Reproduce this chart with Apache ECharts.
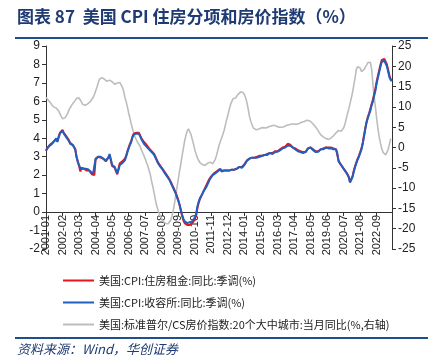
<!DOCTYPE html>
<html><head><meta charset="utf-8">
<script src="https://cdn.jsdelivr.net/npm/echarts@6/dist/echarts.min.js"></script>
<style>html,body{margin:0;padding:0;background:#fff}#c{width:439px;height:360px}</style>
</head><body><div id="c"></div>
<script>
const startYear = 2001, monthCount = 273;
const rentSeries = [
3.3,3.45,3.55,3.65,3.7,3.75,3.8,3.9,4.0,3.85,4.1,4.3,
4.35,4.45,4.3,4.2,4.1,4.0,3.9,3.75,3.75,3.65,3.55,3.4,
3.0,2.7,2.5,2.2,2.4,2.3,2.35,2.3,2.25,2.3,2.25,2.15,
2.05,2.05,2.0,2.85,2.95,3.0,2.95,2.95,2.9,2.9,2.85,2.75,
2.8,2.95,3.1,2.8,2.5,2.45,2.4,2.35,2.05,2.35,2.65,2.65,
2.75,2.8,2.9,3.05,3.3,3.5,3.7,3.85,4.1,4.25,4.25,4.3,
4.35,4.3,4.15,4.0,3.9,3.8,3.7,3.65,3.55,3.45,3.35,3.3,
3.25,3.15,3.0,2.85,2.7,2.6,2.5,2.4,2.3,2.2,2.1,2.0,
1.9,1.8,1.65,1.5,1.35,1.25,1.05,0.85,0.65,0.4,0.1,-0.2,
-0.45,-0.6,-0.7,-0.7,-0.7,-0.7,-0.6,-0.6,-0.5,-0.4,-0.2,0.2,
0.5,0.7,0.85,1.0,1.15,1.3,1.45,1.6,1.75,1.85,1.95,2.05,
2.1,2.15,2.2,2.25,2.3,2.35,2.25,2.2,2.25,2.25,2.25,2.25,
2.25,2.25,2.3,2.3,2.3,2.35,2.35,2.4,2.45,2.5,2.45,2.5,
2.6,2.7,2.8,2.85,2.9,2.95,2.95,3.0,2.95,3.0,3.0,3.05,
3.05,3.0,3.05,3.1,3.1,3.1,3.15,3.2,3.2,3.25,3.2,3.25,
3.3,3.3,3.3,3.3,3.4,3.45,3.5,3.4,3.55,3.6,3.7,3.7,
3.65,3.6,3.5,3.45,3.45,3.4,3.35,3.3,3.3,3.3,3.25,3.2,
3.25,3.35,3.45,3.5,3.5,3.45,3.4,3.3,3.3,3.35,3.3,3.35,
3.4,3.5,3.45,3.5,3.5,3.55,3.5,3.55,3.5,3.5,3.45,3.45,
3.4,3.35,2.8,2.65,2.55,2.45,2.35,2.25,2.15,2.05,1.9,1.65,
1.6,1.95,2.25,2.5,2.7,2.9,3.05,3.15,3.45,3.75,4.15,4.55,
4.9,5.15,5.35,5.6,5.85,6.1,6.4,6.7,7.1,7.4,7.7,8.0,
8.25,8.35,8.3,8.15,8.0,7.7,7.4,7.2,7.15];
const shelterSeries = [
3.36,3.45,3.55,3.63,3.65,3.72,3.8,3.9,4.0,3.8,4.05,4.27,
4.3,4.4,4.25,4.15,4.05,3.95,3.85,3.7,3.72,3.63,3.55,3.4,
3.0,2.75,2.55,2.37,2.45,2.35,2.4,2.35,2.3,2.32,2.28,2.2,
2.1,2.08,2.05,2.9,2.95,3.0,2.95,3.0,2.95,2.9,2.85,2.8,
2.8,2.95,3.15,2.85,2.55,2.5,2.45,2.4,2.1,2.3,2.55,2.6,
2.65,2.7,2.8,3.0,3.25,3.45,3.65,3.8,4.05,4.2,4.2,4.25,
4.3,4.25,4.1,3.95,3.82,3.7,3.62,3.55,3.47,3.4,3.3,3.25,
3.2,3.1,2.95,2.8,2.65,2.55,2.45,2.35,2.28,2.15,2.05,1.95,
1.85,1.75,1.6,1.45,1.3,1.2,1.0,0.8,0.6,0.4,0.1,-0.15,
-0.35,-0.5,-0.55,-0.6,-0.6,-0.55,-0.45,-0.5,-0.4,-0.3,-0.1,0.3,
0.55,0.75,0.85,1.0,1.15,1.25,1.35,1.5,1.65,1.8,1.9,2.0,
2.05,2.1,2.15,2.2,2.3,2.35,2.2,2.2,2.25,2.25,2.25,2.25,
2.25,2.25,2.3,2.3,2.3,2.35,2.35,2.4,2.45,2.5,2.4,2.45,
2.55,2.65,2.78,2.85,2.9,2.9,2.95,2.97,2.95,3.0,2.95,3.0,
3.0,2.95,3.05,3.1,3.1,3.05,3.1,3.15,3.2,3.2,3.15,3.2,
3.25,3.25,3.27,3.25,3.35,3.4,3.45,3.35,3.5,3.55,3.6,3.63,
3.6,3.55,3.5,3.45,3.4,3.35,3.3,3.27,3.25,3.25,3.2,3.18,
3.25,3.35,3.45,3.5,3.5,3.45,3.35,3.27,3.25,3.3,3.27,3.3,
3.4,3.45,3.4,3.45,3.5,3.5,3.45,3.5,3.45,3.45,3.4,3.4,
3.4,3.2,2.75,2.65,2.55,2.45,2.35,2.25,2.15,2.05,1.9,1.6,
1.6,1.9,2.2,2.45,2.65,2.85,3.0,3.1,3.4,3.7,4.1,4.5,
4.85,5.1,5.3,5.5,5.8,6.0,6.3,6.6,7.0,7.3,7.6,7.9,
8.15,8.25,8.2,8.05,7.9,7.6,7.3,7.15,7.1];
const homePriceSeries = [
12.4,12.0,11.6,11.2,10.8,10.4,10.0,9.8,9.7,9.5,9.0,8.3,
7.6,7.1,7.0,7.3,7.7,8.4,9.2,9.8,10.3,10.8,11.2,11.6,
12.1,12.4,12.2,11.7,11.1,10.6,10.4,10.4,10.6,10.8,11.0,11.4,
11.8,12.3,13.0,13.9,14.8,15.9,16.8,17.2,17.2,17.0,16.8,16.5,
16.3,16.4,16.6,16.5,16.2,15.8,15.6,15.7,15.9,16.1,16.0,15.5,
14.9,13.9,12.4,11.3,10.0,8.5,7.2,5.8,4.6,3.6,2.6,1.9,
1.3,0.8,0.3,-0.6,-1.3,-2.0,-2.8,-3.7,-4.5,-5.6,-6.7,-8.3,
-9.6,-11.2,-12.9,-14.3,-15.4,-16.3,-17.0,-17.6,-18.2,-18.5,-18.7,-18.8,
-18.8,-18.5,-17.9,-17.0,-15.6,-13.8,-11.8,-9.8,-7.8,-5.8,-4.0,-2.0,
-0.2,1.6,3.0,4.1,4.6,4.2,3.2,2.0,0.8,-0.6,-1.6,-2.5,
-3.2,-3.7,-4.0,-4.2,-4.4,-4.4,-4.2,-3.9,-3.6,-3.6,-3.9,-4.0,
-3.7,-3.0,-2.0,-0.8,0.5,1.4,2.3,3.2,4.2,5.5,6.8,8.0,
9.3,10.5,11.3,12.0,12.1,12.2,12.6,13.1,13.5,13.7,13.7,13.5,
13.0,12.2,11.0,9.4,7.6,6.4,5.6,4.8,4.5,4.4,4.4,4.5,
4.7,4.8,4.9,4.9,4.8,4.8,5.0,5.1,5.2,5.3,5.4,5.5,
5.4,5.3,5.1,5.0,5.0,5.0,5.0,5.1,5.2,5.4,5.5,5.6,
5.7,5.8,5.9,5.8,5.7,5.7,5.8,5.9,6.0,6.2,6.4,6.4,
6.4,6.7,6.8,6.6,6.4,6.1,5.8,5.4,5.0,4.6,4.1,3.6,
3.1,2.8,2.6,2.4,2.2,2.1,2.0,2.1,2.3,2.5,2.9,3.2,
3.6,3.9,4.2,4.2,4.0,3.9,4.8,5.7,7.1,8.3,9.5,10.8,
12.2,13.6,15.4,17.2,19.3,19.9,20.0,19.6,18.7,18.6,19.2,19.8,
20.3,20.9,21.3,21.0,19.3,15.6,12.4,9.9,7.0,4.5,2.5,1.0,
-0.3,-1.2,-1.6,-1.8,-1.7,-0.5,0.8,2.2,null];
const seriesNames = ['美国:CPI:住房租金:同比:季调(%)','美国:CPI:收容所:同比:季调(%)','美国:标准普尔/CS房价指数:20个大中城市:当月同比(%,右轴)'];
const categories = [];
for (let i = 0; i < monthCount; i++) {
  const y = startYear + Math.floor(i / 12), m = i % 12 + 1;
  categories.push(y + '-' + (m < 10 ? '0' + m : m));
}
const NAVY = '#1F3B73';
const chart = echarts.init(document.getElementById('c'), null, {renderer: 'canvas'});
const axisFont = {fontFamily: 'Liberation Sans, Arial, sans-serif', fontSize: 12, color: '#222'};
chart.setOption({
  animation: false,
  backgroundColor: '#fff',
  graphic: [
    {type: 'text', left: 17, top: 8, style: {text: '图表 87  美国 CPI 住房分项和房价指数（%）', font: 'bold 17px "Noto Sans CJK SC", sans-serif', fill: NAVY}},
    {type: 'rect', shape: {x: 15, y: 37, width: 413, height: 2}, style: {fill: '#1F4E8C'}},
    {type: 'rect', shape: {x: 15, y: 337, width: 413, height: 2}, style: {fill: '#1F4E8C'}},
    {type: 'text', left: 17, top: 343, style: {text: '资料来源：Wind，华创证券', font: 'italic 13px "Noto Sans CJK SC", sans-serif', fill: NAVY}}
  ],
  legend: {
    orient: 'vertical', left: 58, top: 270, itemWidth: 31, itemHeight: 10, itemGap: 11,
    data: seriesNames,
    textStyle: {fontFamily: '"Noto Sans CJK SC", sans-serif', fontSize: 11, color: '#222'},
    icon: 'path://M0,4L31,4L31,6L0,6Z'
  },
  grid: {left: 46, right: 47, top: 46, bottom: 111},
  xAxis: {
    type: 'category', data: categories, boundaryGap: false, offset: -37,
    axisLine: {onZero: false, lineStyle: {color: '#333', width: 1}},
    axisTick: {show: true, interval: 12, length: 4, lineStyle: {color: '#333'}},
    axisLabel: {interval: 12, rotate: 90, margin: 3, fontSize: 11, fontFamily: axisFont.fontFamily, color: '#222'}
  },
  yAxis: [
    {type: 'value', min: -2, max: 9, interval: 1, position: 'left',
     axisLine: {show: true, onZero: false, lineStyle: {color: '#333'}}, axisTick: {show: true, length: 4, lineStyle: {color: '#333'}},
     splitLine: {show: false}, axisLabel: Object.assign({margin: 6}, axisFont)},
    {type: 'value', min: -25, max: 25, interval: 5, position: 'right',
     axisLine: {show: true, onZero: false, lineStyle: {color: '#333'}}, axisTick: {show: true, length: 4, lineStyle: {color: '#333'}},
     splitLine: {show: false}, axisLabel: Object.assign({margin: 6}, axisFont)}
  ],
  series: [
    {name: seriesNames[2], type: 'line', yAxisIndex: 1, data: homePriceSeries, symbol: 'none', lineStyle: {color: '#BDBDBD', width: 1.6}, itemStyle: {color: '#BDBDBD'}},
    {name: seriesNames[0], type: 'line', data: rentSeries, symbol: 'none', lineStyle: {color: '#E8141B', width: 2}, itemStyle: {color: '#E8141B'}},
    {name: seriesNames[1], type: 'line', data: shelterSeries, symbol: 'none', lineStyle: {color: '#1F5FBF', width: 2}, itemStyle: {color: '#1F5FBF'}}
  ]
});
</script></body></html>
